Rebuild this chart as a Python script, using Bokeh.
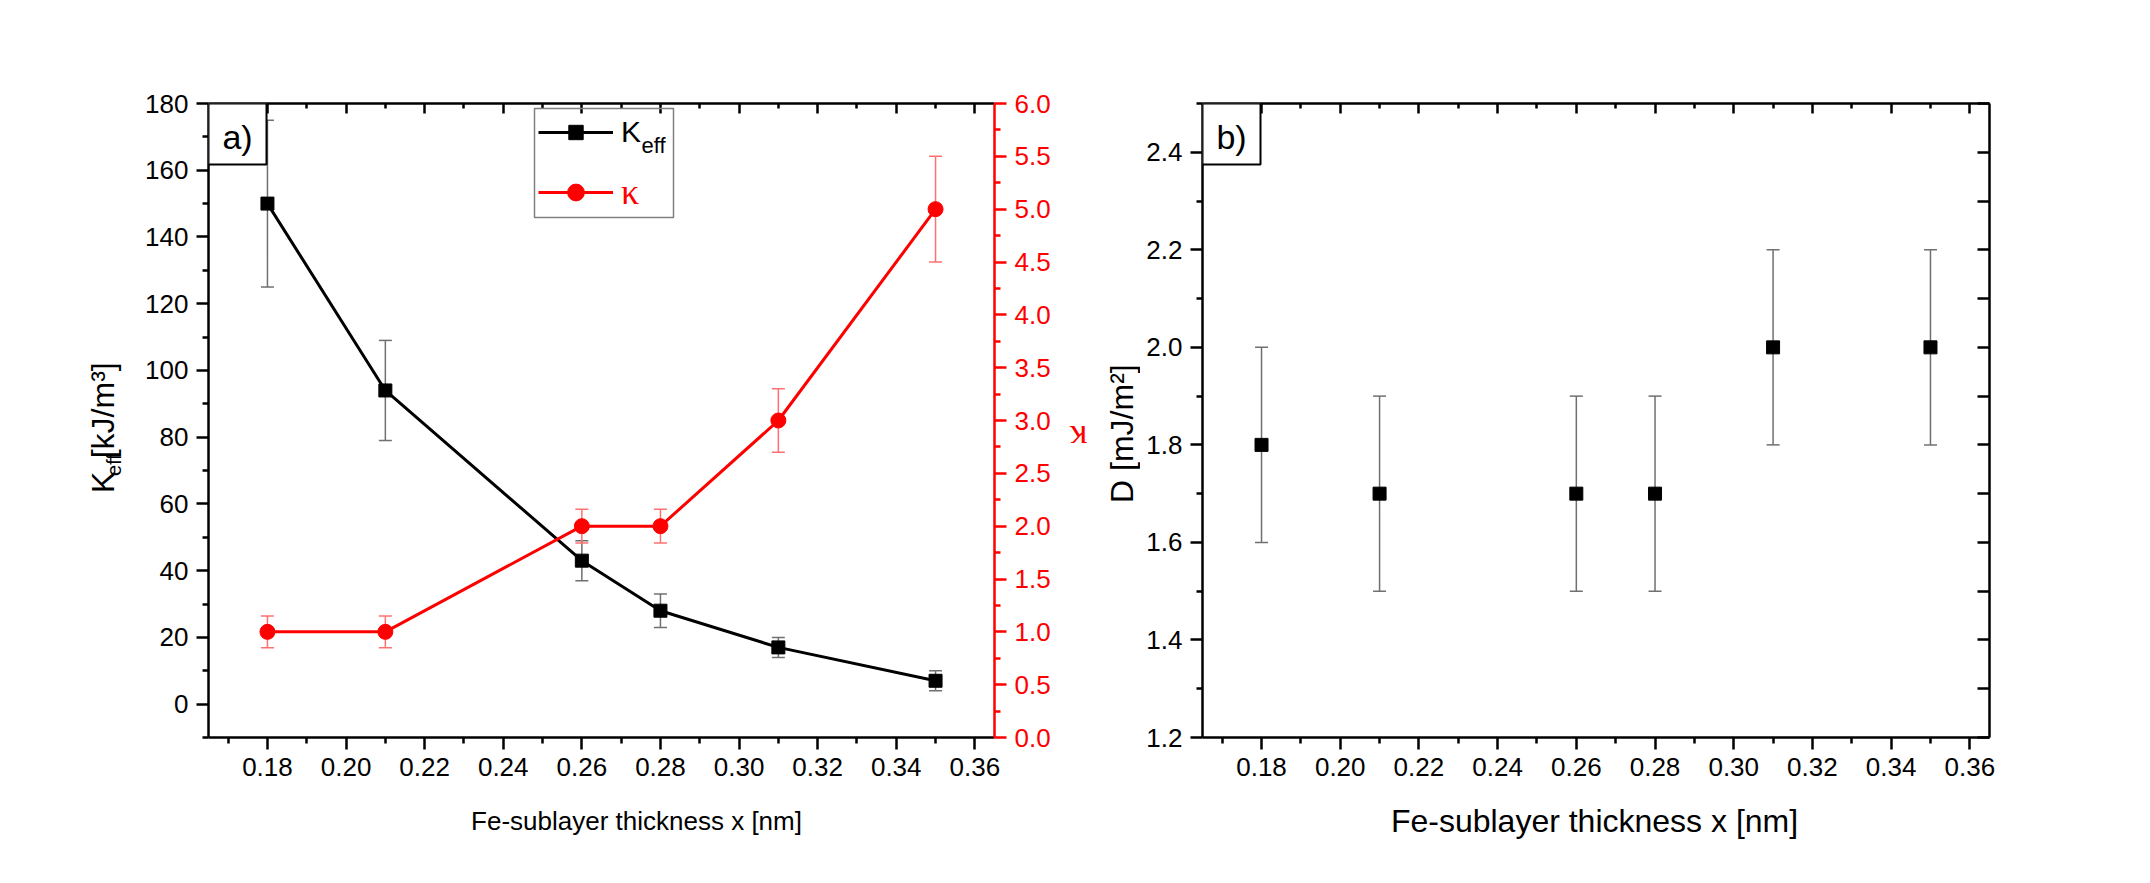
from bokeh.plotting import figure
from bokeh.models import (ColumnDataSource, Range1d, LinearAxis, FixedTicker, PrintfTickFormatter,
                          Whisker, TeeHead, Label, Legend, LegendItem, BoxAnnotation)
from bokeh.layouts import row, column
from bokeh.embed import file_html
from bokeh.resources import INLINE

# ---------------- data ----------------
x_nm = [0.18, 0.21, 0.26, 0.28, 0.31, 0.35]
keff = [150, 94, 43, 28, 17, 7]
keff_err = [25, 15, 6, 5, 3, 3]
kappa = [1.0, 1.0, 2.0, 2.0, 3.0, 5.0]
kappa_err = [0.15, 0.15, 0.16, 0.16, 0.3, 0.5]
dmi = [1.8, 1.7, 1.7, 1.7, 2.0, 2.0]
dmi_err = [0.2, 0.2, 0.2, 0.2, 0.2, 0.2]

x_ticks = [0.18, 0.20, 0.22, 0.24, 0.26, 0.28, 0.30, 0.32, 0.34, 0.36]
x_minor = [0.17, 0.19, 0.21, 0.23, 0.25, 0.27, 0.29, 0.31, 0.33, 0.35, 0.37]
keff_ticks = [0, 20, 40, 60, 80, 100, 120, 140, 160, 180]
keff_minor = [-10, 10, 30, 50, 70, 90, 110, 130, 150, 170]
kappa_ticks = [0.0, 0.5, 1.0, 1.5, 2.0, 2.5, 3.0, 3.5, 4.0, 4.5, 5.0, 5.5, 6.0]
kappa_minor = [0.25, 0.75, 1.25, 1.75, 2.25, 2.75, 3.25, 3.75, 4.25, 4.75, 5.25, 5.75]
d_ticks = [1.2, 1.4, 1.6, 1.8, 2.0, 2.2, 2.4]
d_minor = [1.3, 1.5, 1.7, 1.9, 2.1, 2.3, 2.5]

X_LABEL = "Fe-sublayer thickness x [nm]"
D_LABEL = "D [mJ/m²]"

FONT = "Liberation Sans"
SERIF = "Liberation Serif"
RED = "#ff0000"
ERR_GRAY = "#707070"
ERR_RED = "#ff7070"
TICK_FS = "26px"
ASC = 0.905  # Liberation Sans ascent (em)


def style_axis(ax, color="black", mj_out=12, mj_in=0, mn_out=6, mn_in=0, labels=True):
    ax.axis_line_color = color
    ax.axis_line_width = 2.5
    ax.major_tick_line_color = color
    ax.minor_tick_line_color = color
    ax.major_tick_line_width = 2.5
    ax.minor_tick_line_width = 2.5
    ax.major_tick_out = mj_out
    ax.major_tick_in = mj_in
    ax.minor_tick_out = mn_out
    ax.minor_tick_in = mn_in
    ax.major_label_text_font = FONT
    ax.major_label_text_font_size = TICK_FS if labels else "1px"
    ax.major_label_text_color = color if labels else None
    ax.major_label_standoff = 8


def label_fig(w, h):
    f = figure(width=w, height=h, x_range=Range1d(0, w), y_range=Range1d(0, h), min_border=0,
               x_axis_type=None, y_axis_type=None, output_backend="svg", toolbar_location=None)
    f.outline_line_color = None
    return f


def rot_piece(p, text, size, baseline_x, start_y):
    # text rotated 90 deg (reads bottom to top); its box top-left corner sits at the anchor
    p.add_layout(Label(x=baseline_x - ASC * size, y=start_y, text=text, angle=90, angle_units="deg",
                       text_font=FONT, text_font_size=f"{size}px", text_align="left",
                       text_baseline="top", text_color="black"))


def panel_tag(p, text):
    p.add_layout(BoxAnnotation(left=0, right=58, top=FH, bottom=FH - 61, left_units="screen",
                               right_units="screen", top_units="screen", bottom_units="screen",
                               fill_color="white", fill_alpha=1, line_color="black", line_alpha=1,
                               line_width=2))
    p.add_layout(Label(x=29, y=FH - 33, x_units="screen", y_units="screen", text=text,
                       text_font=FONT, text_font_size="34px", text_align="center",
                       text_baseline="middle", text_color="black"))


FH = 634
TOP = 103
BOT = 60
RH = TOP + FH + BOT  # row height 797

# ---------------- panel a ----------------
pa = figure(frame_width=786, frame_height=FH, min_border_left=75, min_border_right=62,
            min_border_top=TOP, min_border_bottom=BOT,
            x_range=Range1d(0.165, 0.365), y_range=Range1d(-10, 180),
            output_backend="svg", toolbar_location=None)
pa.extra_y_ranges = {"kappa": Range1d(0, 6)}
pa.grid.visible = False
pa.outline_line_color = None

pa.xaxis.ticker = FixedTicker(ticks=x_ticks, minor_ticks=x_minor)
pa.xaxis.formatter = PrintfTickFormatter(format="%.2f")
style_axis(pa.xaxis[0])
pa.yaxis.ticker = FixedTicker(ticks=keff_ticks, minor_ticks=keff_minor)
style_axis(pa.yaxis[0])

top_a = LinearAxis(ticker=FixedTicker(ticks=x_ticks, minor_ticks=x_minor))
style_axis(top_a, mj_out=0, mj_in=10, mn_out=0, mn_in=5, labels=False)
pa.add_layout(top_a, "above")

right_a = LinearAxis(y_range_name="kappa", ticker=FixedTicker(ticks=kappa_ticks, minor_ticks=kappa_minor),
                     formatter=PrintfTickFormatter(format="%.1f"))
style_axis(right_a, color=RED)
pa.add_layout(right_a, "right")

src_k = ColumnDataSource(dict(x=x_nm, y=keff,
                              lo=[v - e for v, e in zip(keff, keff_err)],
                              hi=[v + e for v, e in zip(keff, keff_err)]))
src_c = ColumnDataSource(dict(x=x_nm, y=kappa,
                              lo=[v - e for v, e in zip(kappa, kappa_err)],
                              hi=[v + e for v, e in zip(kappa, kappa_err)]))

pa.add_layout(Whisker(base="x", lower="lo", upper="hi", source=src_k, line_color=ERR_GRAY, line_width=1.5,
                      upper_head=TeeHead(size=13, line_color=ERR_GRAY, line_width=1.5),
                      lower_head=TeeHead(size=13, line_color=ERR_GRAY, line_width=1.5)))
pa.add_layout(Whisker(base="x", lower="lo", upper="hi", source=src_c, line_color=ERR_RED, line_width=1.5,
                      y_range_name="kappa",
                      upper_head=TeeHead(size=13, line_color=ERR_RED, line_width=1.5),
                      lower_head=TeeHead(size=13, line_color=ERR_RED, line_width=1.5)))

lk = pa.line("x", "y", source=src_k, line_color="black", line_width=3)
sk = pa.scatter("x", "y", source=src_k, marker="square", size=13, color="black")
lc = pa.line("x", "y", source=src_c, line_color=RED, line_width=3, y_range_name="kappa")
sc = pa.scatter("x", "y", source=src_c, marker="circle", size=15, color=RED, y_range_name="kappa")

leg1 = Legend(items=[LegendItem(label="K", renderers=[lk, sk])], location=(330, 587),
              padding=0, margin=0, spacing=0, glyph_width=75, glyph_height=36, label_height=36,
              label_standoff=8, label_text_font=FONT, label_text_font_size="30px",
              label_text_color="black", border_line_color=None, background_fill_alpha=0)
leg2 = Legend(items=[LegendItem(label="κ", renderers=[lc, sc])], location=(330, 524),
              padding=0, margin=0, spacing=0, glyph_width=75, glyph_height=42, label_height=42,
              label_standoff=8, label_text_font=SERIF, label_text_font_size="36px",
              label_text_color=RED, border_line_color=None, background_fill_alpha=0)
pa.add_layout(leg1, "center")
pa.add_layout(leg2, "center")
# subscript "eff" of the legend entry (box top anchored; baseline ~20px below)
pa.add_layout(Label(x=433, y=605, x_units="screen", y_units="screen", text="eff", text_font=FONT,
                    text_font_size="22px", text_baseline="top", text_align="left",
                    text_color="black"))
pa.add_layout(BoxAnnotation(left=326, right=465, top=629, bottom=520, left_units="screen",
                            right_units="screen", top_units="screen", bottom_units="screen",
                            fill_alpha=0, line_color="#808080", line_alpha=1, line_width=1.5))
panel_tag(pa, "a)")

# ---------------- panel b ----------------
pb = figure(frame_width=787, frame_height=FH, min_border_left=62, min_border_right=60,
            min_border_top=TOP, min_border_bottom=BOT,
            x_range=Range1d(0.165, 0.365), y_range=Range1d(1.2, 2.5),
            output_backend="svg", toolbar_location=None)
pb.grid.visible = False
pb.outline_line_color = None
pb.xaxis.ticker = FixedTicker(ticks=x_ticks, minor_ticks=x_minor)
pb.xaxis.formatter = PrintfTickFormatter(format="%.2f")
style_axis(pb.xaxis[0])
pb.yaxis.ticker = FixedTicker(ticks=d_ticks, minor_ticks=d_minor)
pb.yaxis.formatter = PrintfTickFormatter(format="%.1f")
style_axis(pb.yaxis[0])

top_b = LinearAxis(ticker=FixedTicker(ticks=x_ticks, minor_ticks=x_minor))
style_axis(top_b, mj_out=0, mj_in=10, mn_out=0, mn_in=5, labels=False)
pb.add_layout(top_b, "above")
right_b = LinearAxis(ticker=FixedTicker(ticks=d_ticks, minor_ticks=d_minor))
style_axis(right_b, mj_out=0, mj_in=12, mn_out=0, mn_in=12, labels=False)
pb.add_layout(right_b, "right")

src_d = ColumnDataSource(dict(x=x_nm, y=dmi,
                              lo=[v - e for v, e in zip(dmi, dmi_err)],
                              hi=[v + e for v, e in zip(dmi, dmi_err)]))
pb.add_layout(Whisker(base="x", lower="lo", upper="hi", source=src_d, line_color=ERR_GRAY, line_width=1.5,
                      upper_head=TeeHead(size=13, line_color=ERR_GRAY, line_width=1.5),
                      lower_head=TeeHead(size=13, line_color=ERR_GRAY, line_width=1.5)))
pb.scatter("x", "y", source=src_d, marker="square", size=13, color="black")
panel_tag(pb, "b)")

# ---------------- label strips ----------------
la = label_fig(133, RH)
# K_eff[kJ/m³] : "K" (32px), subscript "eff" (20px), "[kJ/m³]" (32px); total length ~139px, centred
y0 = (RH - 420) - 139 / 2
rot_piece(la, "K", 32, 113, y0)
rot_piece(la, "eff", 20, 121, y0 + 21.3)
rot_piece(la, "[kJ/m³]", 32, 113, y0 + 21.3 + 22.2)

lb = label_fig(84, RH)
lb.add_layout(Label(x=22, y=RH - 420, text="κ", angle=180, angle_units="deg", text_font=SERIF,
                    text_font_size="36px", text_color=RED, text_align="center", text_baseline="middle"))
lb.add_layout(Label(x=65.4, y=RH - 415, text=D_LABEL, angle=90, angle_units="deg", text_font=FONT,
                    text_font_size="32px", text_color="black", text_align="center",
                    text_baseline="middle"))

TOTAL_W = 133 + 923 + 84 + 909
xl = label_fig(TOTAL_W, 70)
xl.add_layout(Label(x=636, y=RH + 70 - 820, text=X_LABEL, text_font=FONT, text_font_size="26px",
                    text_align="center", text_baseline="middle", text_color="black"))
xl.add_layout(Label(x=1594, y=RH + 70 - 820, text=X_LABEL, text_font=FONT, text_font_size="32px",
                    text_align="center", text_baseline="middle", text_color="black"))

layout = column(row(la, pa, lb, pb), xl)
open("out.html", "w").write(file_html(layout, INLINE))
